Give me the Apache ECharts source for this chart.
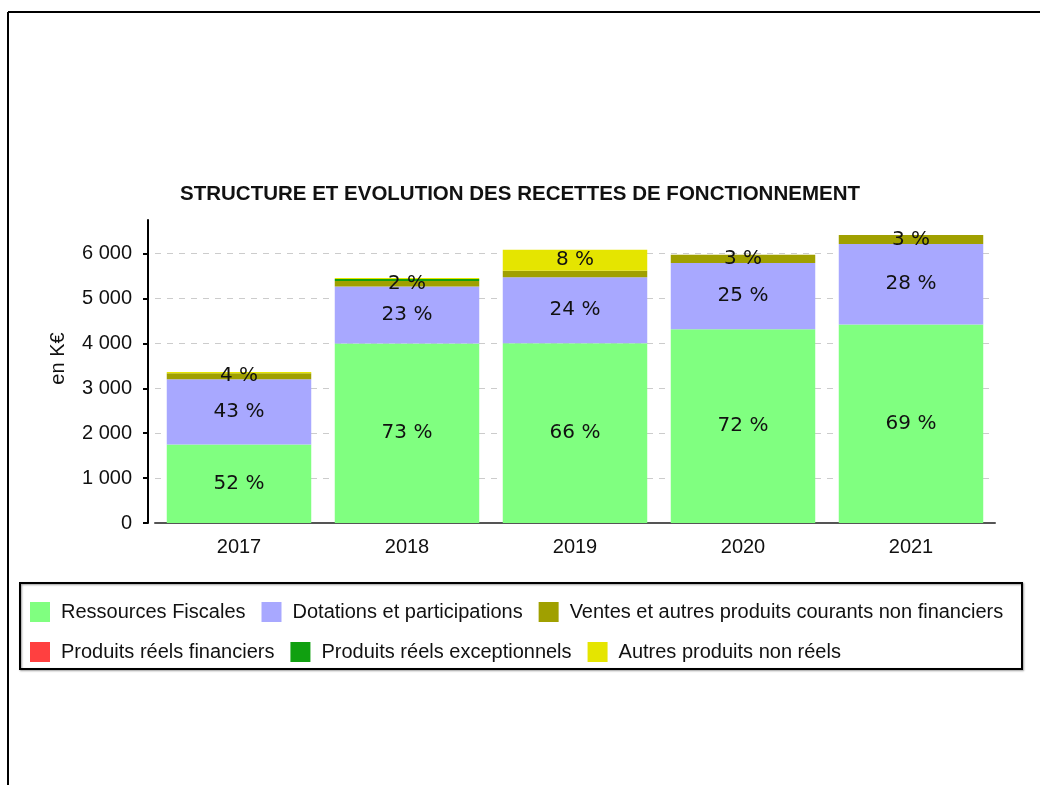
<!DOCTYPE html>
<html>
<head>
<meta charset="utf-8">
<script src="https://cdn.jsdelivr.net/npm/echarts@6/dist/echarts.min.js"></script>
<style>
  html, body { margin: 0; padding: 0; background: #fff; }
  #chart { width: 1040px; height: 785px; }
</style>
</head>
<body>
<div id="chart"></div>
<script>
// années
var years = ['2017', '2018', '2019', '2020', '2021'];

// montants en K€
var ressourcesFiscales = [1750, 4000, 4005, 4316, 4420];
var dotations = [1452, 1270, 1467, 1476, 1796];
var ventes = [134, 120, 148, 185, 201];
var produitsFinanciers = [0, 0, 0, 0, 0];
var produitsExceptionnels = [0, 45, 0, 0, 0];
var autresNonReels = [30, 25, 469, 0, 0];

var yTicks = [0, 1000, 2000, 3000, 4000, 5000, 6000];

var seriesNames = [
	'Ressources Fiscales',
	'Dotations et participations',
	'Ventes et autres produits courants non financiers',
	'Produits réels financiers',
	'Produits réels exceptionnels',
	'Autres produits non réels'
];
var seriesColors = ['#80ff80', '#a8a8ff', '#a0a000', '#ff4040', '#10a010', '#e5e500'];
var seriesValues = [ressourcesFiscales, dotations, ventes, produitsFinanciers, produitsExceptionnels, autresNonReels];

var totals = years.map(function(y, i) {
	return seriesValues.reduce(function(acc, arr) { return acc + arr[i]; }, 0);
});

var sansFont = '"Liberation Sans", Arial, sans-serif';

function pct(value, idx)
{
	return Math.round(value / totals[idx] * 100);
}

var series = seriesNames.map(function(name, s) {
	return {
		name: name,
		type: 'bar',
		stack: 'total',
		barWidth: '86%',
		itemStyle: {color: seriesColors[s]},
		labelLayout: {hideOverlap: true},
		label: {
			show: true,
			position: 'inside',
			color: '#111',
			fontFamily: '"DejaVu Sans", sans-serif',
			fontSize: 20,
			formatter: function(p) {
				var v = pct(p.value, p.dataIndex);
				return v >= 2 ? v + ' %' : '';
			}
		},
		data: seriesValues[s]
	};
});

var chart = echarts.init(document.getElementById('chart'), null, {renderer: 'canvas'});

chart.setOption({
	animation: false,
	backgroundColor: '#fff',
	title: {
		text: 'STRUCTURE ET EVOLUTION DES RECETTES DE FONCTIONNEMENT',
		left: 'center',
		top: 179,
		textStyle: {fontFamily: sansFont, fontSize: 20.5, fontWeight: 'bold', color: '#111'}
	},
	legend: [
		{
			data: seriesNames.slice(0, 3),
			left: 25, top: 597,
			orient: 'horizontal',
			itemWidth: 20, itemHeight: 20, itemGap: 16,
			icon: 'rect',
			textStyle: {fontFamily: sansFont, fontSize: 20, color: '#111', padding: [0, 0, 0, 6]},
			selectedMode: false
		},
		{
			data: seriesNames.slice(3),
			left: 25, top: 637,
			orient: 'horizontal',
			itemWidth: 20, itemHeight: 20, itemGap: 16,
			icon: 'rect',
			textStyle: {fontFamily: sansFont, fontSize: 20, color: '#111', padding: [0, 0, 0, 6]},
			selectedMode: false
		}
	],
	grid: {left: 155, right: 45, top: 220, bottom: 262, outerBoundsMode: 'none'},
	xAxis: {
		type: 'category',
		data: years,
		axisLine: {lineStyle: {color: '#555', width: 2}},
		axisTick: {show: false},
		axisLabel: {fontFamily: sansFont, fontSize: 20, color: '#111', margin: 14}
	},
	yAxis: {
		type: 'value',
		min: 0,
		max: 6750,
		interval: 1000,
		offset: 7,
		name: 'en K€',
		nameLocation: 'middle',
		nameRotate: 90,
		nameGap: 80,
		nameTextStyle: {fontFamily: sansFont, fontSize: 20, color: '#111', padding: [0, 0, 0, 26]},
		axisLine: {show: true, lineStyle: {color: '#000', width: 2}},
		axisTick: {show: true, length: 5, lineStyle: {color: '#000', width: 2},
			customValues: yTicks},
		axisLabel: {
			fontFamily: sansFont, fontSize: 20, color: '#111', margin: 16,
			customValues: yTicks,
			formatter: function(v) {
				return String(v).replace(/\B(?=(\d{3})+(?!\d))/g, ' ');
			}
		},
		splitLine: {
			show: true,
			lineStyle: {color: ['#ccc', '#ccc', '#ccc', '#ccc', '#ccc', '#ccc', '#ccc', 'rgba(0,0,0,0)'], type: [6, 6], width: 1}
		}
	},
	graphic: [
		{type: 'line', shape: {x1: 8, y1: 12, x2: 1040, y2: 12}, style: {stroke: '#000', lineWidth: 2}},
		{type: 'line', shape: {x1: 8, y1: 12, x2: 8, y2: 785}, style: {stroke: '#000', lineWidth: 2}},
		{
			type: 'rect',
			shape: {x: 20, y: 583, width: 1002, height: 86},
			style: {fill: 'none', stroke: '#000', lineWidth: 2, shadowBlur: 2, shadowColor: 'rgba(0,0,0,0.4)', shadowOffsetX: 1, shadowOffsetY: 1},
			z: -1
		}
	],
	series: series
});
</script>
</body>
</html>
